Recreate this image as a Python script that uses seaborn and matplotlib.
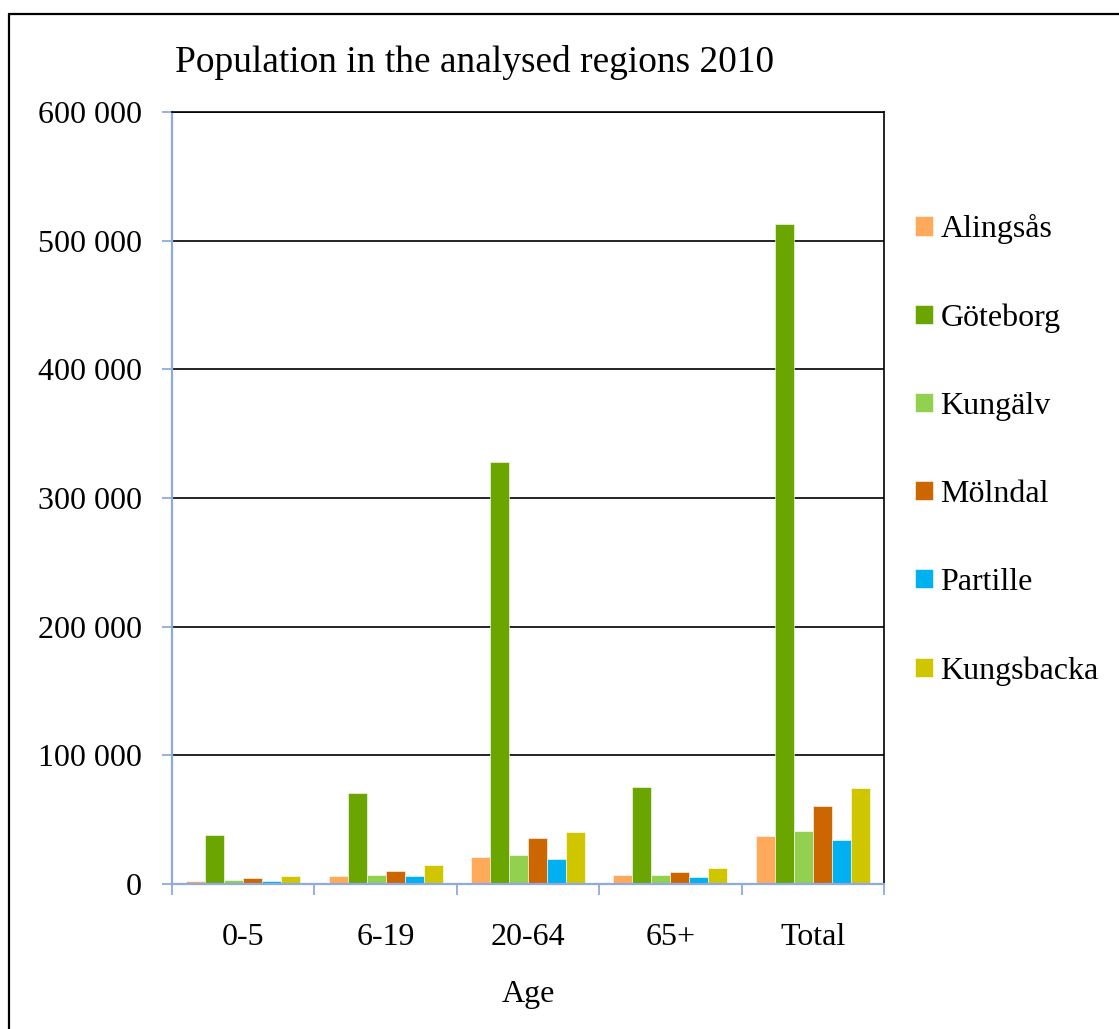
import matplotlib
matplotlib.use("Agg")
import matplotlib.pyplot as plt
from matplotlib.lines import Line2D
from matplotlib.ticker import FuncFormatter, FixedLocator
import seaborn as sns
import pandas as pd

# Population per age group and municipality, 2010
age_groups = ["0-5", "6-19", "20-64", "65+", "Total"]
regions = ["Alingsås", "Göteborg", "Kungälv", "Mölndal", "Partille", "Kungsbacka"]

alingsas = [2600, 6000, 20700, 6700, 37300]
goteborg = [38000, 70500, 328000, 75700, 513000]
kungalv = [3300, 6800, 22800, 7000, 41000]
molndal = [4900, 10100, 35500, 9100, 60600]
partille = [2600, 6500, 19700, 5200, 34500]
kungsbacka = [6000, 14500, 40400, 12700, 74600]

series = [alingsas, goteborg, kungalv, molndal, partille, kungsbacka]
colors = ["#FFAA5A", "#6AA500", "#92D050", "#CC6600", "#00B0F0", "#D0C600"]

df = pd.DataFrame(
    [(age, reg, val) for reg, vals in zip(regions, series) for age, val in zip(age_groups, vals)],
    columns=["Age", "Region", "Population"],
)

sns.set_style("white")
plt.rcParams["font.family"] = ["Liberation Serif", "DejaVu Serif"]
plt.rcParams["text.color"] = "black"
plt.rcParams["axes.labelcolor"] = "black"
plt.rcParams["xtick.labelcolor"] = "black"
plt.rcParams["ytick.labelcolor"] = "black"

W, H = 1119, 1029
fig = plt.figure(figsize=(W / 100, H / 100), dpi=100)
ax = fig.add_axes([172 / W, 1 - 884 / H, (884 - 172) / W, (884 - 112) / H])

sns.barplot(
    data=df, x="Age", y="Population", hue="Region",
    order=age_groups, hue_order=regions, palette=colors, saturation=1,
    width=0.8, gap=0, errorbar=None, ax=ax,
    edgecolor="#FFFFFF", linewidth=0.4,
)

axis_blue = "#8FAADC"
ax.set_ylim(0, 600000)
ax.set_xlim(-0.5, len(age_groups) - 0.5)
ax.set_yticks(range(0, 600001, 100000))
ax.yaxis.set_major_formatter(FuncFormatter(lambda v, p: f"{int(v):,}".replace(",", " ")))
ax.yaxis.grid(True, color="black", linewidth=1.2)
ax.set_axisbelow(True)

ax.tick_params(axis="y", labelsize=23, length=7, width=1.3, color=axis_blue,
               labelcolor="black", direction="out", pad=14.5, left=True)
ax.tick_params(axis="x", which="major", labelsize=23, length=0, pad=28, labelcolor="black")
ax.xaxis.set_minor_locator(FixedLocator([i - 0.5 for i in range(len(age_groups) + 1)]))
ax.tick_params(axis="x", which="minor", length=8, width=1.3, color=axis_blue,
               direction="out", bottom=True)

for side in ["left", "bottom"]:
    ax.spines[side].set_color(axis_blue)
    ax.spines[side].set_linewidth(1.6)
for side in ["top", "right"]:
    ax.spines[side].set_color("black")
    ax.spines[side].set_linewidth(1.2)

ax.set_xlabel("Age", fontsize=23, labelpad=20, color="black")
ax.set_ylabel("")

handles, labels = ax.get_legend_handles_labels()
leg = ax.legend(
    handles, labels, loc="center left",
    bbox_to_anchor=(899 / W, 1 - 450 / H), bbox_transform=fig.transFigure,
    frameon=False, fontsize=23, handlelength=0.55, handleheight=0.55,
    handletextpad=0.25, labelspacing=1.85, borderpad=0,
)
for t in leg.get_texts():
    t.set_color("black")

fig.text(175 / W, 1 - 62 / H, "Population in the analysed regions 2010",
         fontsize=26.9, va="center", ha="left", color="black")

# Chart frame
fig.add_artist(Line2D([9 / W, 9 / W], [0, 1 - 14 / H], transform=fig.transFigure,
                      color="black", linewidth=1.6))
fig.add_artist(Line2D([9 / W, 1], [1 - 14 / H, 1 - 14 / H], transform=fig.transFigure,
                      color="black", linewidth=1.6))

fig.savefig("out.png", dpi=100, facecolor="white")
